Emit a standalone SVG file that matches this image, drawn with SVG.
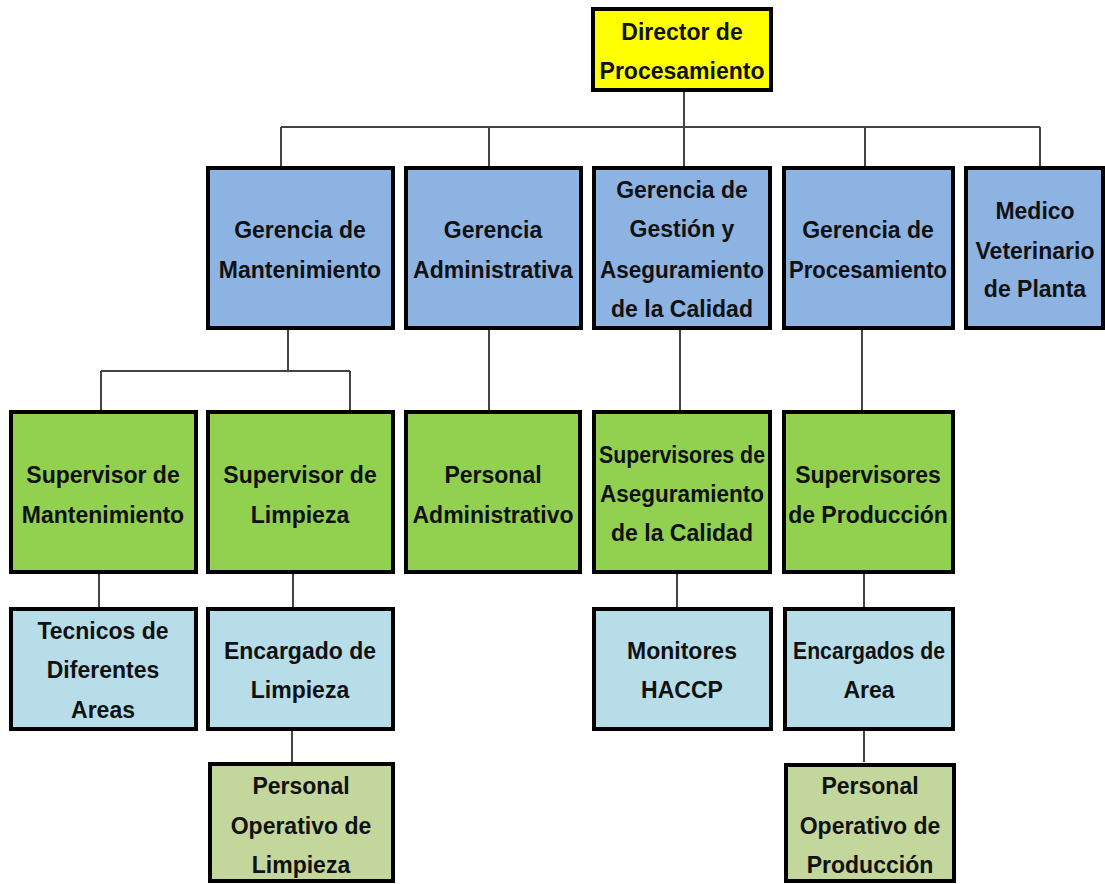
<svg xmlns="http://www.w3.org/2000/svg" width="1105" height="884" viewBox="0 0 1105 884">
<style>
.box{stroke:#000;stroke-width:4}
.yel{fill:#FFFF00}
.blu{fill:#8DB3E2}
.grn{fill:#92D050}
.lbl{fill:#B7DDE8}
.olv{fill:#C3D69B}
.t{font-family:"Liberation Sans",Arial,sans-serif;font-weight:bold;font-size:23px;fill:#111;text-anchor:middle}
.c{fill:none;stroke:#444;stroke-width:2}
</style>
<rect width="1105" height="884" fill="#fff"/>
<g id="connectors">
<path class="c" d="M684 92V127M281 127H1040M281 127V166M489 127V166M684 127V166M865 127V166M1040 127V166"/>
<path class="c" d="M288 330V371M101 371H350M101 371V410M350 371V410"/>
<path class="c" d="M489 330V410M680 330V410M862 330V410"/>
<path class="c" d="M99 574V607M293 574V607M292 731V762M677 574V607M864 574V607M864 731V762"/>
</g>
<g id="director">
<rect class="box yel" x="593" y="9" width="178" height="81"/>
<text class="t" x="682" y="40">Director de</text>
<text class="t" x="682" y="79">Procesamiento</text>
</g>
<g id="gerencia-mantenimiento">
<rect class="box blu" x="208" y="168" width="185" height="160"/>
<text class="t" x="300" y="238">Gerencia de</text>
<text class="t" x="300" y="278">Mantenimiento</text>
</g>
<g id="gerencia-administrativa">
<rect class="box blu" x="406" y="168" width="175" height="160"/>
<text class="t" x="493" y="238">Gerencia</text>
<text class="t" x="493" y="278">Administrativa</text>
</g>
<g id="gerencia-gestion">
<rect class="box blu" x="594" y="168" width="176" height="160"/>
<text class="t" x="682" y="198">Gerencia de</text>
<text class="t" x="682" y="237">Gestión y</text>
<text class="t" x="682" y="278" textLength="164" lengthAdjust="spacingAndGlyphs">Aseguramiento</text>
<text class="t" x="682" y="317">de la Calidad</text>
</g>
<g id="gerencia-procesamiento">
<rect class="box blu" x="784" y="168" width="169" height="160"/>
<text class="t" x="868" y="238">Gerencia de</text>
<text class="t" x="868" y="278" textLength="158" lengthAdjust="spacingAndGlyphs">Procesamiento</text>
</g>
<g id="medico-veterinario">
<rect class="box blu" x="966" y="168" width="137" height="160"/>
<text class="t" x="1035" y="219">Medico</text>
<text class="t" x="1035" y="259">Veterinario</text>
<text class="t" x="1035" y="297">de Planta</text>
</g>
<g id="supervisor-mantenimiento">
<rect class="box grn" x="11" y="412" width="185" height="160"/>
<text class="t" x="103" y="483">Supervisor de</text>
<text class="t" x="103" y="523">Mantenimiento</text>
</g>
<g id="supervisor-limpieza">
<rect class="box grn" x="208" y="412" width="185" height="160"/>
<text class="t" x="300" y="483">Supervisor de</text>
<text class="t" x="300" y="523">Limpieza</text>
</g>
<g id="personal-administrativo">
<rect class="box grn" x="406" y="412" width="174" height="160"/>
<text class="t" x="493" y="483">Personal</text>
<text class="t" x="493" y="523">Administrativo</text>
</g>
<g id="supervisores-aseguramiento">
<rect class="box grn" x="594" y="412" width="176" height="160"/>
<text class="t" x="682" y="463" textLength="166" lengthAdjust="spacingAndGlyphs">Supervisores de</text>
<text class="t" x="682" y="502" textLength="164" lengthAdjust="spacingAndGlyphs">Aseguramiento</text>
<text class="t" x="682" y="541">de la Calidad</text>
</g>
<g id="supervisores-produccion">
<rect class="box grn" x="784" y="412" width="169" height="160"/>
<text class="t" x="868" y="483">Supervisores</text>
<text class="t" x="868" y="523">de Producción</text>
</g>
<g id="tecnicos">
<rect class="box lbl" x="11" y="609" width="185" height="120"/>
<text class="t" x="103" y="639">Tecnicos de</text>
<text class="t" x="103" y="678">Diferentes</text>
<text class="t" x="103" y="718">Areas</text>
</g>
<g id="encargado-limpieza">
<rect class="box lbl" x="208" y="609" width="185" height="120"/>
<text class="t" x="300" y="659">Encargado de</text>
<text class="t" x="300" y="698">Limpieza</text>
</g>
<g id="monitores-haccp">
<rect class="box lbl" x="594" y="609" width="177" height="120"/>
<text class="t" x="682" y="659">Monitores</text>
<text class="t" x="682" y="698">HACCP</text>
</g>
<g id="encargados-area">
<rect class="box lbl" x="785" y="609" width="168" height="120"/>
<text class="t" x="869" y="659" textLength="152" lengthAdjust="spacingAndGlyphs">Encargados de</text>
<text class="t" x="869" y="698">Area</text>
</g>
<g id="personal-operativo-limpieza">
<rect class="box olv" x="210" y="764" width="183" height="117"/>
<text class="t" x="301" y="794">Personal</text>
<text class="t" x="301" y="834">Operativo de</text>
<text class="t" x="301" y="873">Limpieza</text>
</g>
<g id="personal-operativo-produccion">
<rect class="box olv" x="786" y="765" width="168" height="116"/>
<text class="t" x="870" y="794">Personal</text>
<text class="t" x="870" y="834">Operativo de</text>
<text class="t" x="870" y="873">Producción</text>
</g>
</svg>
